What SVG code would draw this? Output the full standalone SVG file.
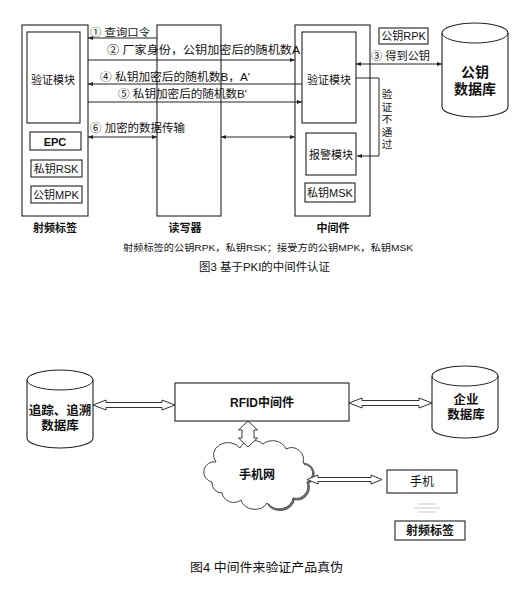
<svg xmlns="http://www.w3.org/2000/svg" width="529" height="597" viewBox="0 0 529 597">
<defs>
<style>
.bx{fill:none;stroke:#222;stroke-width:1.1}
.bxw{fill:#fff;stroke:#222;stroke-width:1.1}
.ln{fill:none;stroke:#222;stroke-width:1}
.t{font-family:"Liberation Sans","Noto Sans CJK SC",sans-serif;fill:#111;text-anchor:middle}
.tl{font-family:"Liberation Sans","Noto Sans CJK SC",sans-serif;fill:#111;text-anchor:start}
.b{font-weight:bold}
.ha{fill:#fff;stroke:#333;stroke-width:1}
</style>
<marker id="ah" viewBox="0 0 10 10" refX="10" refY="5" markerWidth="5" markerHeight="5" orient="auto-start-reverse">
<path d="M0,1 L10,5 L0,9 Z" fill="#222"/>
</marker>
</defs>
<rect width="529" height="597" fill="#fff"/>

<!-- Figure 3 -->
<g id="tag">
<rect class="bx" x="22" y="25" width="66" height="191"/>
<rect class="bx" x="27" y="32" width="53" height="91"/>
<text class="t" x="53" y="84" font-size="11">验证模块</text>
<rect class="bx" x="30" y="132" width="51" height="18"/>
<text class="t b" x="55" y="145.5" font-size="11">EPC</text>
<rect class="bx" x="31" y="160" width="51" height="17"/>
<text class="t" x="56" y="172.5" font-size="11">私钥RSK</text>
<rect class="bx" x="31" y="186" width="51" height="17"/>
<text class="t" x="56" y="198.5" font-size="11">公钥MPK</text>
<text class="t b" x="55" y="232" font-size="11">射频标签</text>
</g>

<g id="reader">
<rect class="bx" x="157" y="25" width="64" height="191"/>
<text class="t b" x="185" y="232" font-size="11">读写器</text>
</g>

<g id="middleware">
<rect class="bx" x="295" y="25" width="75" height="191"/>
<rect class="bx" x="302" y="32" width="54" height="91"/>
<text class="t" x="329" y="84" font-size="11">验证模块</text>
<rect class="bx" x="306" y="133" width="50" height="42"/>
<text class="t" x="331" y="159" font-size="11">报警模块</text>
<rect class="bx" x="305" y="183" width="50" height="19"/>
<text class="t" x="330" y="197" font-size="11">私钥MSK</text>
<text class="t b" x="333" y="232" font-size="11">中间件</text>
</g>

<g id="rpk">
<rect class="bx" x="379" y="28" width="49" height="16"/>
<text class="t" x="403.5" y="40" font-size="11">公钥RPK</text>
</g>

<g id="pubkey-db">
<path class="bxw" d="M442,33 L442,107 A33,10 0 0 0 508,107 L508,33 A33,10 0 0 0 442,33 Z"/>
<path class="ln" d="M442,33 A33,10 0 0 0 508,33"/>
<text class="t b" x="475" y="77" font-size="14">公钥</text>
<text class="t b" x="475" y="94" font-size="14">数据库</text>
</g>

<g id="connectors-fig3">
<line class="ln" x1="157" y1="38" x2="88" y2="38" marker-end="url(#ah)"/>
<text class="tl" x="90" y="36" font-size="10.5" textLength="60" lengthAdjust="spacingAndGlyphs">① 查询口令</text>
<line class="ln" x1="88" y1="60" x2="295" y2="60" marker-end="url(#ah)"/>
<text class="tl" x="107" y="54" font-size="11.5" textLength="193" lengthAdjust="spacingAndGlyphs">② 厂家身份，公钥加密后的随机数A</text>
<line class="ln" x1="302" y1="84" x2="88" y2="84" marker-end="url(#ah)"/>
<text class="tl" x="100" y="81" font-size="11" textLength="150" lengthAdjust="spacingAndGlyphs">④ 私钥加密后的随机数B，A'</text>
<line class="ln" x1="88" y1="102" x2="302" y2="102" marker-end="url(#ah)"/>
<text class="tl" x="118" y="98" font-size="11" textLength="129" lengthAdjust="spacingAndGlyphs">⑤ 私钥加密后的随机数B'</text>
<line class="ln" x1="88" y1="137" x2="157" y2="137" marker-start="url(#ah)" marker-end="url(#ah)"/>
<line class="ln" x1="221" y1="137" x2="295" y2="137" marker-start="url(#ah)" marker-end="url(#ah)"/>
<text class="tl" x="90" y="132" font-size="11" textLength="95" lengthAdjust="spacingAndGlyphs">⑥ 加密的数据传输</text>
<line class="ln" x1="356" y1="64" x2="442" y2="64" marker-start="url(#ah)" marker-end="url(#ah)"/>
<text class="tl" x="371" y="60" font-size="11" textLength="59" lengthAdjust="spacingAndGlyphs">③ 得到公钥</text>
<polyline class="ln" points="356,78 379,78 379,156 357,156" marker-end="url(#ah)"/>
<text class="t" x="387" y="98" font-size="10.5">验</text>
<text class="t" x="387" y="110.5" font-size="10.5">证</text>
<text class="t" x="387" y="123" font-size="10.5">不</text>
<text class="t" x="387" y="135.5" font-size="10.5">通</text>
<text class="t" x="387" y="148" font-size="10.5">过</text>
</g>

<text class="t" x="268" y="251" font-size="9.5" textLength="290" lengthAdjust="spacingAndGlyphs">射频标签的公钥RPK，私钥RSK；接受方的公钥MPK，私钥MSK</text>
<text class="tl" x="199" y="271" font-size="11" textLength="131" lengthAdjust="spacingAndGlyphs">图3 基于PKI的中间件认证</text>

<!-- Figure 4 -->
<g id="trace-db">
<path class="bxw" d="M27,380 L27,438 A33,10 0 0 0 93,438 L93,380 A33,10 0 0 0 27,380 Z"/>
<path class="ln" d="M27,380 A33,10 0 0 0 93,380"/>
<text class="t b" x="60" y="415" font-size="12.5">追踪、追溯</text>
<text class="t b" x="60" y="430" font-size="12.5">数据库</text>
</g>

<g id="rfid-middleware">
<rect class="bx" x="175" y="383" width="174" height="38"/>
<text class="t b" x="262" y="406.5" font-size="12">RFID中间件</text>
</g>

<g id="enterprise-db">
<path class="bxw" d="M432,376 L432,428 A33,10 0 0 0 498,428 L498,376 A33,10 0 0 0 432,376 Z"/>
<path class="ln" d="M432,376 A33,10 0 0 0 498,376"/>
<text class="t b" x="466" y="404" font-size="12.5">企业</text>
<text class="t b" x="466" y="419" font-size="12.5">数据库</text>
</g>

<g id="mobile-network">
<path d="M212,482 A10,10 0 0 1 216,462 A14,12 0 0 1 240,448 A14,12 0 0 1 263,444 A14,12 0 0 1 286,449 A12,12 0 0 1 303,463 A10,10 0 0 1 307,482 A12,12 0 0 1 293,498 A14,12 0 0 1 267,503 A14,12 0 0 1 241,500 A12,12 0 0 1 222,493 A10,10 0 0 1 212,482 Z" fill="#fff" stroke="#444" stroke-width="1"/>
<path d="M304,464 A10,10 0 0 1 308,483 A12,12 0 0 1 294,499 A14,12 0 0 1 268,504" fill="none" stroke="#666" stroke-width="2.2"/>
<text class="t b" x="257" y="479" font-size="12">手机网</text>
</g>

<g id="phone">
<rect class="bx" x="387" y="470" width="70" height="23"/>
<text class="t" x="422" y="486" font-size="12">手机</text>
</g>

<g id="rf-tag">
<rect class="bx" x="395" y="521" width="70" height="19"/>
<text class="t b" x="430" y="535" font-size="12">射频标签</text>
</g>

<g id="connectors-fig4">
<path class="ha" d="M93,405 L106,400 L106,402.5 L162,402.5 L162,400 L175,405 L162,410 L162,407.5 L106,407.5 L106,410 Z"/>
<path class="ha" d="M349,403 L362,398 L362,400.5 L419,400.5 L419,398 L432,403 L419,408 L419,405.5 L362,405.5 L362,408 Z"/>
<path class="ha" d="M248,421 L257.5,430 L254,430 L254,438 L257.5,438 L248,447 L238.5,438 L242,438 L242,430 L238.5,430 Z"/>
<path class="ha" d="M307,479.5 L318,475 L318,477.5 L371,477.5 L371,475 L382,479.5 L371,484 L371,481.5 L318,481.5 L318,484 Z"/>
<path d="M418,504 L436,504 M414,508 L440,508 M418,512 L436,512" stroke="#bbb" stroke-width="0.8" fill="none"/>
</g>

<text class="tl" x="190" y="572" font-size="12.5" textLength="153" lengthAdjust="spacingAndGlyphs">图4 中间件来验证产品真伪</text>
</svg>
